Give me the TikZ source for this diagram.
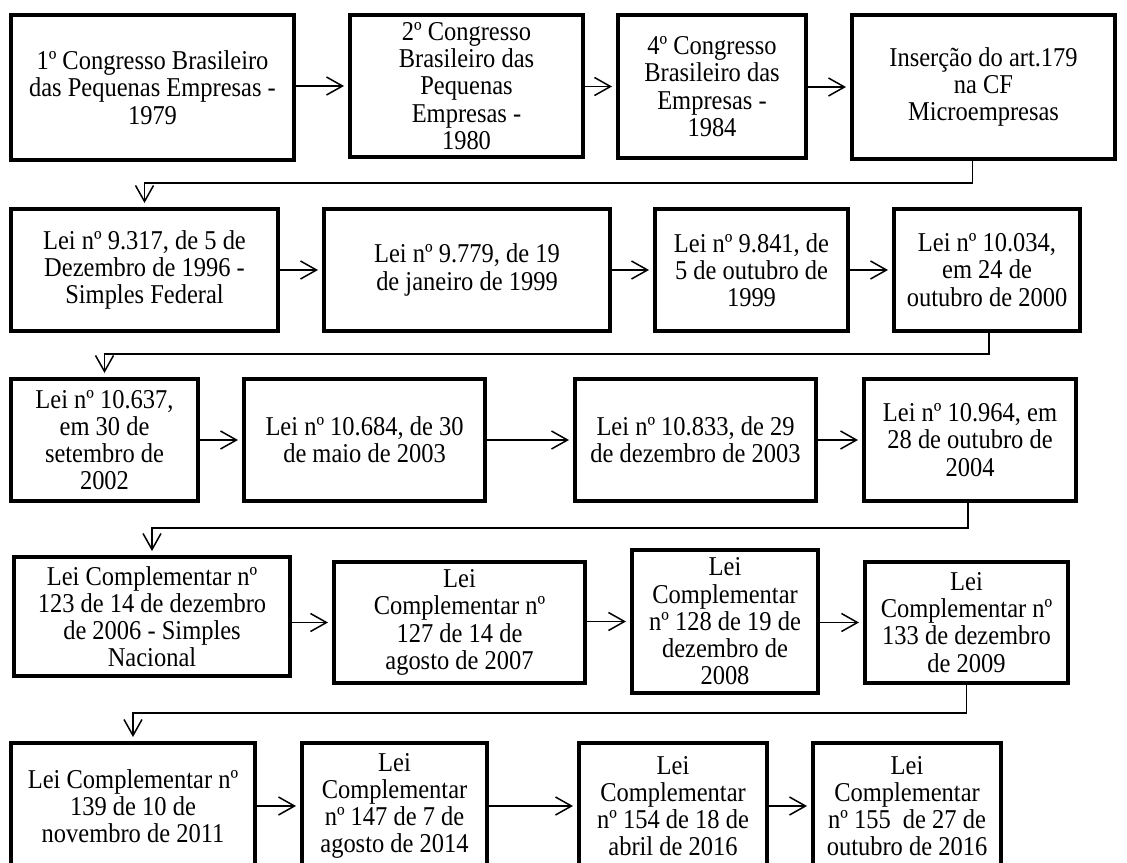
\documentclass[tikz,border=0pt]{standalone}
\usepackage{fontspec}
\setmainfont{Liberation Serif}[FakeStretch=0.9]
\usetikzlibrary{arrows.meta}

\begin{document}
\begin{tikzpicture}[x=1pt, y=-1pt,
    box/.style={draw, line width=4pt, inner sep=0pt, align=center, font=\fontsize{27.2}{27.2}\selectfont},
    arr/.style={line width=1.5pt, -{Straight Barb[length=16pt, width=18pt]}, shorten >=4pt}]
    \useasboundingbox (0,0) rectangle (1127,862);
    \clip (0,0) rectangle (1127,862);

    % Row 1
    \node[box, minimum width=283pt, minimum height=145pt] (c1) at (152.5,87.5) {1º Congresso Brasileiro\\das Pequenas Empresas -\\1979};
    \node[box, minimum width=233pt, minimum height=142pt] (c2) at (466.5,86) {2º Congresso\\Brasileiro das\\Pequenas\\Empresas -\\1980};
    \node[box, minimum width=188pt, minimum height=143pt] (c3) at (712,86.5) {4º Congresso\\Brasileiro das\\Empresas -\\1984};
    \node[box, minimum width=263pt, minimum height=144pt] (c4) at (983.5,87) {Inserção do art.179\\na CF\\Microempresas};
    \draw[arr] (c1.east |- c2.west) -- (c2.west);
    \draw[arr] (c2.east |- c3.west) -- (c3.west);
    \draw[arr] (c3.east |- c4.west) -- (c4.west);

    % Row 2
    \node[box, minimum width=267pt, minimum height=122pt] (c5) at (144.5,270) {Lei nº 9.317, de 5 de\\Dezembro de 1996 -\\Simples Federal};
    \node[box, minimum width=286pt, minimum height=122pt] (c6) at (467,270) {Lei nº 9.779, de 19\\de janeiro de 1999};
    \node[box, minimum width=193pt, minimum height=122pt] (c7) at (751.5,270) {Lei nº 9.841, de\\5 de outubro de\\1999};
    \node[box, minimum width=186pt, minimum height=122pt] (c8) at (987,270) {Lei nº 10.034,\\em 24 de\\outubro de 2000};
    \draw[arr] (c5.east |- c6.west) -- (c6.west);
    \draw[arr] (c6.east |- c7.west) -- (c7.west);
    \draw[arr] (c7.east |- c8.west) -- (c8.west);

    % Row 3
    \node[box, minimum width=187pt, minimum height=122pt] (c9) at (104.5,440) {Lei nº 10.637,\\em 30 de\\setembro de\\2002};
    \node[box, minimum width=241pt, minimum height=122pt] (c10) at (364.5,440) {Lei nº 10.684, de 30\\de maio de 2003};
    \node[box, minimum width=241pt, minimum height=122pt] (c11) at (695.5,440) {Lei nº 10.833, de 29\\de dezembro de 2003};
    \node[box, minimum width=212pt, minimum height=122pt] (c12) at (970,440) {Lei nº 10.964, em\\28 de outubro de\\2004};
    \draw[arr] (c9.east |- c10.west) -- (c10.west);
    \draw[arr] (c10.east |- c11.west) -- (c11.west);
    \draw[arr] (c11.east |- c12.west) -- (c12.west);

    % Row 4
    \node[box, minimum width=276pt, minimum height=119pt] (c13) at (152,616.5) {Lei Complementar nº\\123 de 14 de dezembro\\de 2006 - Simples\\Nacional};
    \node[box, minimum width=251pt, minimum height=121pt] (c14) at (459.5,622.5) {Lei\\Complementar nº\\127 de 14 de\\agosto de 2007};
    \node[box, minimum width=186pt, minimum height=143pt] (c15) at (725,621.5) {Lei\\Complementar\\nº 128 de 19 de\\dezembro de\\2008};
    \node[box, minimum width=203pt, minimum height=121pt] (c16) at (966.5,622.5) {Lei\\Complementar nº\\133 de dezembro\\de 2009};
    \draw[arr] (c13.east |- c14.west) -- (c14.west);
    \draw[arr] (c14.east |- c15.west) -- (c15.west);
    \draw[arr] (c15.east |- c16.west) -- (c16.west);

    % Row 5 (cut by the bottom edge)
    \node[box, minimum width=244pt, minimum height=126pt] (c17) at (133,806) {Lei Complementar nº\\139 de 10 de\\novembro de 2011};
    \node[box, minimum width=185pt, minimum height=126pt] (c18) at (394.5,806) {Lei\\Complementar\\nº 147 de 7 de\\agosto de 2014};
    \node[box, minimum width=188pt, minimum height=126pt] (c19) at (673,806) {Lei\\Complementar\\nº 154 de 18 de\\abril de 2016};
    \node[box, minimum width=188pt, minimum height=126pt] (c20) at (907,806) {Lei\\Complementar\\nº 155\ \ de 27 de\\outubro de 2016};
    \draw[arr] (c17.east |- c18.west) -- (c18.west);
    \draw[arr] (c18.east |- c19.west) -- (c19.west);
    \draw[arr] (c19.east |- c20.west) -- (c20.west);

    % Links between rows
    \draw[arr] ([xshift=-11pt]c4.south) -- ++(0,22) -| (c5.north);
    \draw[arr] ([xshift=2pt]c8.south) -- ++(0,21) -| (c9.north);
    \draw[arr] ([xshift=-2pt]c12.south) -- ++(0,25) -| (c13.north);
    \draw[arr] (c16.south) -- ++(0,28) -| (c17.north);
\end{tikzpicture}
\end{document}
